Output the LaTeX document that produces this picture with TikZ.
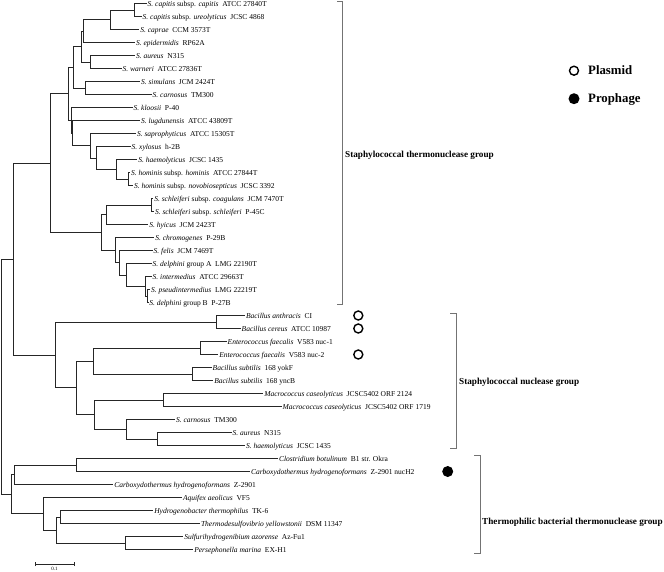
\documentclass[tikz,border=0pt]{standalone}
\usepackage{fontspec}
\setmainfont{Liberation Serif}
\begin{document}
\begin{tikzpicture}[x=1pt,y=-1pt,
  branch/.style={draw=black!85, line width=0.7pt},
  bracket/.style={draw=black!55, line width=0.8pt},
  leaflab/.style={anchor=west, inner xsep=1pt, inner ysep=0pt, outer sep=0pt,
    font=\fontsize{7.5}{8}\selectfont, text height=0.66em, text depth=0pt},
  grouplab/.style={anchor=west, inner sep=0pt, font=\fontsize{9.2}{11}\selectfont\bfseries,
    text height=0.66em, text depth=0pt},
  leglab/.style={anchor=west, inner sep=0pt, font=\fontsize{12.8}{15}\selectfont\bfseries,
    text height=0.66em, text depth=0pt},
  plasmid/.style={circle, draw=black, line width=1.4pt, fill=white, minimum size=9pt, inner sep=0pt},
  prophage/.style={circle, fill=black, minimum size=11pt, inner sep=0pt}
]
\fill[white] (0,0) rectangle (664,571);
\useasboundingbox (0,0) rectangle (664,571);
\newcommand\mkleaf[4]{\node[leaflab] (#1) at (#2,{3.5+13*(#3-1)}) {#4};}
\newcommand\br[2]{\draw[branch] (#1) |- (#2.west);}
\newcommand\bri[2]{\draw[branch] (#1) |- (#2);}
% ---------- leaves ----------
\mkleaf{l1}{146.7}{1}{\textit{S. capitis} subsp. \textit{capitis}~ ATCC 27840T}
\mkleaf{l2}{141.7}{2}{\textit{S. capitis} subsp. \textit{ureolyticus}~ JCSC 4868}
\mkleaf{l3}{139.3}{3}{\textit{S. caprae}~ CCM 3573T}
\mkleaf{l4}{135}{4}{\textit{S. epidermidis}~ RP62A}
\mkleaf{l5}{135}{5}{\textit{S. aureus}~ N315}
\mkleaf{l6}{121.7}{6}{\textit{S. warneri}~ ATCC 27836T}
\mkleaf{l7}{140}{7}{\textit{S. simulans}~ JCM 2424T}
\mkleaf{l8}{151.7}{8}{\textit{S. carnosus}~ TM300}
\mkleaf{l9}{132.7}{9}{\textit{S. kloosii}~ P-40}
\mkleaf{l10}{140}{10}{\textit{S. lugdunensis}~ ATCC 43809T}
\mkleaf{l11}{136}{11}{\textit{S. saprophyticus}~ ATCC 15305T}
\mkleaf{l12}{130.7}{12}{\textit{S. xylosus}~ h-2B}
\mkleaf{l13}{137.3}{13}{\textit{S. haemolyticus}~ JCSC 1435}
\mkleaf{l14}{130}{14}{\textit{S. hominis} subsp. \textit{hominis}~ ATCC 27844T}
\mkleaf{l15}{133}{15}{\textit{S. hominis} subsp. \textit{novobiosepticus}~ JCSC 3392}
\mkleaf{l16}{153.3}{16}{\textit{S. schleiferi} subsp. \textit{coagulans}~ JCM 7470T}
\mkleaf{l17}{154}{17}{\textit{S. schleiferi} subsp. \textit{schleiferi}~ P-45C}
\mkleaf{l18}{148.3}{18}{\textit{S. hyicus}~ JCM 2423T}
\mkleaf{l19}{154.3}{19}{\textit{S. chromogenes}~ P-29B}
\mkleaf{l20}{152.7}{20}{\textit{S. felis}~ JCM 7469T}
\mkleaf{l21}{151.7}{21}{\textit{S. delphini} group A~ LMG 22190T}
\mkleaf{l22}{151.7}{22}{\textit{S. intermedius}~ ATCC 29663T}
\mkleaf{l23}{150}{23}{\textit{S. pseudintermedius}~ LMG 22219T}
\mkleaf{l24}{148.3}{24}{\textit{S. delphini} group B~ P-27B}
\mkleaf{l25}{245}{25}{\textit{Bacillus anthracis}~ CI}
\mkleaf{l26}{240.7}{26}{\textit{Bacillus cereus}~ ATCC 10987}
\mkleaf{l27}{226.7}{27}{\textit{Enterococcus faecalis}~ V583 nuc-1}
\mkleaf{l28}{218.3}{28}{\textit{Enterococcus faecalis}~ V583 nuc-2}
\mkleaf{l29}{211.7}{29}{\textit{Bacillus subtilis}~ 168 yokF}
\mkleaf{l30}{213.3}{30}{\textit{Bacillus subtilis}~ 168 yncB}
\mkleaf{l31}{263.3}{31}{\textit{Macrococcus caseolyticus}~ JCSC5402 ORF 2124}
\mkleaf{l32}{281.7}{32}{\textit{Macrococcus caseolyticus}~ JCSC5402 ORF 1719}
\mkleaf{l33}{175}{33}{\textit{S. carnosus}~ TM300}
\mkleaf{l34}{231.7}{34}{\textit{S. aureus}~ N315}
\mkleaf{l35}{245}{35}{\textit{S. haemolyticus}~ JCSC 1435}
\mkleaf{l36}{278}{36}{\textit{Clostridium botulinum}~ B1 str. Okra}
\mkleaf{l37}{250}{37}{\textit{Carboxydothermus hydrogenoformans}~ Z-2901 nucH2}
\mkleaf{l38}{113.3}{38}{\textit{Carboxydothermus hydrogenoformans}~ Z-2901}
\mkleaf{l39}{182}{39}{\textit{Aquifex aeolicus}~ VF5}
\mkleaf{l40}{153.3}{40}{\textit{Hydrogenobacter thermophilus}~ TK-6}
\mkleaf{l41}{200}{41}{\textit{Thermodesulfovibrio yellowstonii}~ DSM 11347}
\mkleaf{l42}{183.3}{42}{\textit{Sulfurihydrogenibium azorense}~ Az-Fu1}
\mkleaf{l43}{193.3}{43}{\textit{Persephonella marina}~ EX-H1}
% ---------- internal nodes ----------
\coordinate (A) at (134,10);
\coordinate (B) at (110,19.75);
\coordinate (C) at (83.3,31.1);
\coordinate (E) at (90.7,62);
\coordinate (D) at (81.7,46.6);
\coordinate (F) at (85,88);
\coordinate (G) at (73.3,67.3);
\coordinate (Kh) at (128.3,179);
\coordinate (K3) at (116,169.25);
\coordinate (K2) at (96,157.9);
\coordinate (K) at (90.7,145.7);
\coordinate (J) at (72.7,133.1);
\coordinate (I) at (71.7,120.3);
\coordinate (H) at (68.3,93.8);
\coordinate (S1) at (151.7,205);
\coordinate (M1) at (106.7,214.75);
\coordinate (M6) at (147.5,296);
\coordinate (M5) at (145.5,286.25);
\coordinate (M4) at (126.7,274.9);
\coordinate (M3) at (119.3,262.7);
\coordinate (M2) at (115,250.1);
\coordinate (M) at (101.7,232.4);
\coordinate (Lst) at (50,163.1);
\coordinate (Bc) at (216.7,322);
\coordinate (Ef) at (200,348);
\coordinate (Bs) at (192.7,374);
\coordinate (Q1) at (93.3,361);
\coordinate (Mc) at (163.3,400);
\coordinate (Q4) at (157.3,439);
\coordinate (Q3) at (126.7,429.25);
\coordinate (Q2) at (94,414.6);
\coordinate (Q) at (76,387.8);
\coordinate (P) at (55,354.9);
\coordinate (N) at (13.3,259);
\coordinate (Cl) at (76,465);
\coordinate (U) at (14,474.75);
\coordinate (Hy) at (60,517);
\coordinate (Su) at (125,543);
\coordinate (W) at (56.7,530);
\coordinate (V) at (43.3,513.75);
\coordinate (T) at (11.7,494.25);
\coordinate (R) at (1.5,376.6);
% ---------- branches ----------
\br{A}{l1}\br{A}{l2}
\bri{B}{A}\br{B}{l3}
\bri{C}{B}\br{C}{l4}
\br{E}{l5}\br{E}{l6}
\bri{D}{C}\bri{D}{E}
\br{F}{l7}\br{F}{l8}
\bri{G}{D}\bri{G}{F}
\br{Kh}{l14}\br{Kh}{l15}
\br{K3}{l13}\bri{K3}{Kh}
\br{K2}{l12}\bri{K2}{K3}
\br{K}{l11}\bri{K}{K2}
\br{J}{l10}\bri{J}{K}
\br{I}{l9}\bri{I}{J}
\bri{H}{G}\bri{H}{I}
\br{S1}{l16}\br{S1}{l17}
\bri{M1}{S1}\br{M1}{l18}
\br{M6}{l23}\br{M6}{l24}
\br{M5}{l22}\bri{M5}{M6}
\br{M4}{l21}\bri{M4}{M5}
\br{M3}{l20}\bri{M3}{M4}
\br{M2}{l19}\bri{M2}{M3}
\bri{M}{M1}\bri{M}{M2}
\bri{Lst}{H}\bri{Lst}{M}
\br{Bc}{l25}\br{Bc}{l26}
\br{Ef}{l27}\br{Ef}{l28}
\br{Bs}{l29}\br{Bs}{l30}
\bri{Q1}{Ef}\bri{Q1}{Bs}
\br{Mc}{l31}\br{Mc}{l32}
\br{Q4}{l34}\br{Q4}{l35}
\br{Q3}{l33}\bri{Q3}{Q4}
\bri{Q2}{Mc}\bri{Q2}{Q3}
\bri{Q}{Q1}\bri{Q}{Q2}
\bri{P}{Bc}\bri{P}{Q}
\bri{N}{Lst}\bri{N}{P}
\br{Cl}{l36}\br{Cl}{l37}
\bri{U}{Cl}\br{U}{l38}
\br{Hy}{l40}\br{Hy}{l41}
\br{Su}{l42}\br{Su}{l43}
\bri{W}{Hy}\bri{W}{Su}
\br{V}{l39}\bri{V}{W}
\bri{T}{U}\bri{T}{V}
\bri{R}{N}\bri{R}{T}
% ---------- group brackets ----------
\draw[bracket] (337,1) -- (342,1) -- (342,304) -- (337,304);
\node[grouplab] (g1) at (345,154) {Staphylococcal thermonuclease group};
\draw[bracket] (450,313) -- (456,313) -- (456,448) -- (450,448);
\node[grouplab] (g2) at (459,381) {Staphylococcal nuclease group};
\draw[bracket] (474,455) -- (480,455) -- (480,553) -- (474,553);
\node[grouplab] (g3) at (482,521) {Thermophilic bacterial thermonuclease group};
% ---------- markers ----------
\node[plasmid] (p1) at (358.3,315.5) {};
\node[plasmid] (p2) at (358.3,328.5) {};
\node[plasmid] (p3) at (358.3,354.5) {};
\node[prophage] (f1) at (447.7,471.5) {};
% ---------- legend ----------
\node[plasmid] (lp) at (574,70.7) {};
\node[leglab] (lpt) at (588,70.7) {Plasmid};
\node[prophage] (lf) at (574,98.7) {};
\node[leglab] (lft) at (588,98.7) {Prophage};
% ---------- scale bar ----------
\coordinate (s0) at (35,564);
\coordinate (s1) at (74,564);
\draw[branch] (s0) -- (s1);
\draw[branch] ([yshift=-2.2]s0) -- ([yshift=2.2]s0);
\draw[branch] ([yshift=-2.2]s1) -- ([yshift=2.2]s1);
\node[font=\fontsize{5}{6}\selectfont, inner sep=0pt] (sl) at (54.5,568.8) {0.1};
\end{tikzpicture}
\end{document}
